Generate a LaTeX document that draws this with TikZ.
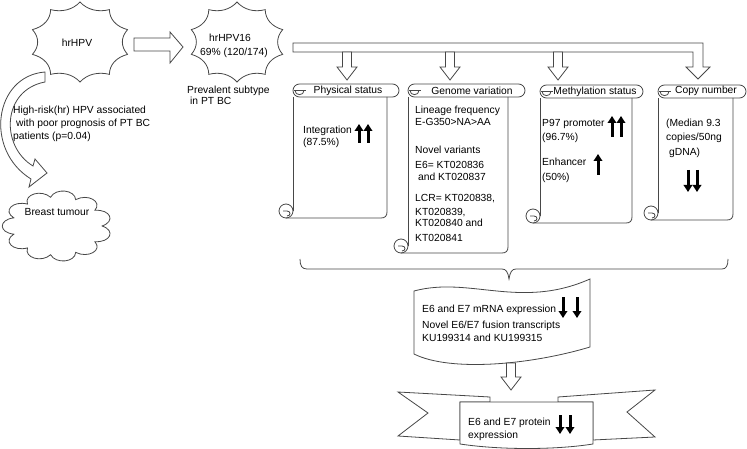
\documentclass[tikz,border=0pt]{standalone}
\usepackage{fontspec}
\setmainfont{Liberation Sans}
\usetikzlibrary{arrows.meta}
\newcommand\mystar[4]{%
  \draw[ln,fill=white] ({#1+#3*cos(270)},{#2+#4*sin(270)})
  \foreach \k in {1,...,10}{ .. controls ({#1+0.82*#3*cos(270+36*\k-26)},{#2+0.82*#4*sin(270+36*\k-26)}) and ({#1+0.82*#3*cos(270+36*\k-10)},{#2+0.82*#4*sin(270+36*\k-10)}) .. ({#1+#3*cos(270+36*\k)},{#2+#4*sin(270+36*\k)}) } -- cycle;}
\newcommand\mycloud[4]{%
  \draw[ln,fill=white] ({#1+#3*cos(0)},{#2+#4*sin(0)})
  \foreach \k in {1,...,11}{ .. controls ({#1+1.32*#3*cos(32.727*\k-26)},{#2+1.32*#4*sin(32.727*\k-26)}) and ({#1+1.32*#3*cos(32.727*\k-7)},{#2+1.32*#4*sin(32.727*\k-7)}) .. ({#1+#3*cos(32.727*\k)},{#2+#4*sin(32.727*\k)}) } -- cycle;}
% L T R H B
\newcommand\scrollbox[5]{%
  \draw[ln,fill=white,rounded corners=6.5] (#1,#2) rectangle (#4,#2+13);
  \draw[ln] (#1+2,#2+6.5) .. controls (#1+2,#2+12) and (#1+11,#2+12) .. (#1+11,#2+6.5);
  \draw[ln] (#1+1,#2+6.5) -- (#1+13,#2+6.5);
  \draw[ln] (#1,#2+13) -- (#1,#5-7);
  \draw[ln] (#3,#2+13) -- (#3,#5-6) .. controls (#3,#5-2) and (#3-2,#5) .. (#3-6,#5) -- (#1-7,#5);
  \draw[ln] (#1-7,#5-7) circle (7);
  \draw[ln] (#1-10,#5-7) -- (#1-6,#5-7) .. controls (#1-2,#5-7) and (#1-2,#5-2) .. (#1-6,#5-2);}
% cx ytop yheadbase ytip shafthalf headhalf
\newcommand\hollowdown[6]{%
  \draw[ln,fill=white] (#1-#5,#2) -- (#1+#5,#2) -- (#1+#5,#3) -- (#1+#6,#3) -- (#1,#4) -- (#1-#6,#3) -- (#1-#5,#3) -- cycle;}
\newcommand\txt[4]{\node[lbl,anchor=base west] (#1) at (#2,#3) {#4};}
\begin{document}
\begin{tikzpicture}[x=1pt,y=-1pt,
  ln/.style={draw=black!72, line width=0.8pt},
  lbl/.style={inner sep=0pt, font=\fontsize{10.3}{13}\selectfont, text=black},
  blk/.style={line width=3pt, -{Triangle[width=8.5pt,length=7pt]}},
]
\useasboundingbox (0,0) rectangle (747,449);

% stars
\mystar{80}{42}{50}{40}
\mystar{237}{42}{48}{40}
\node[lbl] (hr) at (77,43) {hrHPV};
\node[lbl] (hr16a) at (230,38) {hrHPV16};
\node[lbl] (hr16b) at (234,53) {69\% (120/174)};
\txt{prev1}{187}{94}{Prevalent subtype}
\txt{prev2}{190}{105}{in PT BC}

% right block arrow
\draw[ln,fill=white] (134,38) -- (170,38) -- (170,32) -- (183,47) -- (170,63) -- (170,51) -- (134,51) -- cycle;

% curved block arrow
\draw[ln,fill=white] (45,72) .. controls (-6,76) and (-16,150) .. (31,179) -- (29,187) -- (47,173) -- (35,159) -- (33,166) .. controls (0,146) and (2,90) .. (45,82) -- cycle;
\txt{hr1}{13}{114}{High-risk(hr) HPV associated}
\txt{hr2}{16}{127}{with poor prognosis of PT BC}
\txt{hr3}{13}{140}{patients (p=0.04)}

% cloud
\mycloud{57}{226}{45}{29}
\node[lbl] (bttxt) at (57,212) {Breast tumour};

% elbow bar arrow
\draw[ln,fill=white] (293,43) -- (703,43) -- (703,67) -- (710,67) -- (698,79) -- (686,67) -- (693,67) -- (693,52) -- (293,52) -- cycle;
\hollowdown{347}{52}{67}{80}{4.5}{10}
\hollowdown{450}{52}{67}{80}{4.5}{10}
\hollowdown{558}{52}{67}{80}{4.5}{10}

% scrolls
\scrollbox{293}{84}{387}{399}{218}
\scrollbox{408}{84}{508}{525}{253}
\scrollbox{540}{85}{632}{643}{223}
\scrollbox{658}{85}{733}{746}{220}
\node[lbl] (h1) at (348,91) {Physical status};
\node[lbl] (h2) at (472,91) {Genome variation};
\node[lbl] (h3) at (595,92) {Methylation status};
\node[lbl] (h4) at (706,91) {Copy number};

\txt{p1}{303}{134}{Integration}
\txt{p2}{303}{146}{(87.5\%)}
\draw[blk] (359,143) -- (359,124);
\draw[blk] (368,143) -- (368,124);

\txt{g1}{415}{114}{Lineage frequency}
\txt{g2}{415}{126}{E-G350>NA>AA}
\txt{g3}{415}{154}{Novel variants}
\txt{g4}{415}{169}{E6= KT020836}
\txt{g5}{418}{181}{and KT020837}
\txt{g6}{415}{202}{LCR= KT020838,}
\txt{g7}{415}{215}{KT020839,}
\txt{g8}{415}{227}{KT020840 and}
\txt{g9}{415}{241}{KT020841}

\txt{m1}{542}{127}{P97 promoter}
\txt{m2}{542}{141}{(96.7\%)}
\txt{m3}{542}{166}{Enhancer}
\txt{m4}{542}{181}{(50\%)}
\draw[blk] (612,137) -- (612,116);
\draw[blk] (621,137) -- (621,116);
\draw[blk] (598,175) -- (598,154);

\txt{c1}{666}{127}{(Median 9.3}
\txt{c2}{666}{141}{copies/50ng}
\txt{c3}{669}{156}{gDNA)}
\draw[blk] (688,170) -- (688,192);
\draw[blk] (697,170) -- (697,192);

% brace
\draw[ln] (300,259) .. controls (300,266) and (302,269) .. (307,269) -- (502,269) .. controls (506,269) and (508,272) .. (509,279) .. controls (510,272) and (512,269) .. (516,269) -- (722,269) .. controls (726,269) and (728,266) .. (728,259);

% wave box
\draw[ln,fill=white] (414,291) .. controls (470,276) and (520,310) .. (590,279) -- (590,347) .. controls (530,365) and (450,372) .. (414,354) -- cycle;
\txt{w1}{422}{312}{E6 and E7 mRNA expression}
\txt{w2}{422}{328}{Novel E6/E7 fusion transcripts}
\txt{w3}{422}{341}{KU199314 and KU199315}
\draw[blk] (563,297) -- (563,318);
\draw[blk] (577,297) -- (577,318);

\hollowdown{511}{363}{377}{390}{4.5}{10}

% ribbon
\draw[ln,fill=white] (460,440) -- (398,436) -- (428,413) -- (398,392) -- (490,397) -- (490,402) -- (460,402) -- cycle;
\draw[ln,fill=white] (558,402) -- (558,397) -- (655,390) -- (627,412) -- (655,437) -- (593,440) -- (593,402) -- cycle;
\draw[ln,fill=white] (460,402) -- (593,402) -- (593,444) .. controls (555,450) and (500,450) .. (460,444) -- cycle;
\txt{r1}{468}{425}{E6 and E7 protein}
\txt{r2}{468}{438}{expression}
\draw[blk] (560,415) -- (560,434);
\draw[blk] (570,415) -- (570,434);
\end{tikzpicture}
\end{document}
